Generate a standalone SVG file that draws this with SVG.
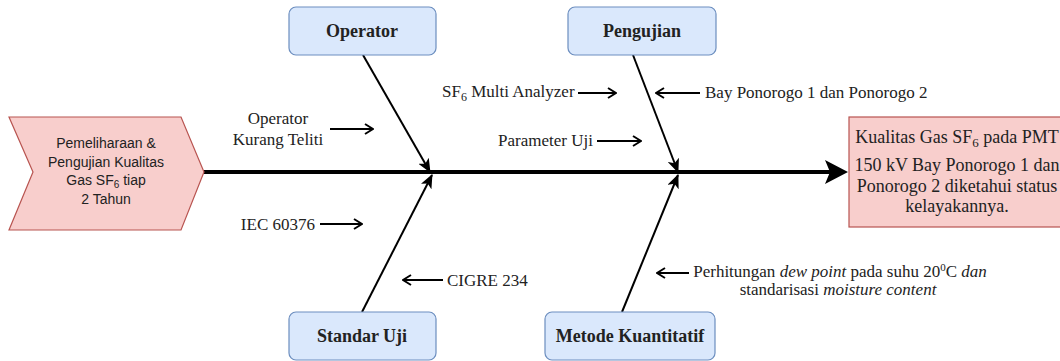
<svg xmlns="http://www.w3.org/2000/svg" width="1060" height="361" viewBox="0 0 1060 361">
<style>
.pink{fill:#f8cecc;stroke:#b85450;stroke-width:1.2}
.blue{fill:#dae8fc;stroke:#6c8ebf;stroke-width:1.2}
.bold{font-family:"Liberation Serif",serif;font-weight:bold;font-size:18px;fill:#222;text-anchor:middle}
.lbl{font-family:"Liberation Serif",serif;font-size:17px;fill:#222}
.sans{font-family:"Liberation Sans",Arial,sans-serif;font-size:14px;fill:#222;text-anchor:middle}
.rt{font-family:"Liberation Serif",serif;font-size:18px;fill:#222;text-anchor:middle}
.diag{stroke:#000;stroke-width:2;fill:none}
.la{stroke:#000;stroke-width:2;fill:none}
</style>
<defs>
<marker id="cls" viewBox="0 0 14 12" refX="13" refY="6" markerWidth="14" markerHeight="12" markerUnits="userSpaceOnUse" orient="auto">
<path d="M0,0 L14,6 L0,12 L3.5,6 Z" fill="#000"/>
</marker>
<marker id="opn" viewBox="0 0 10 12" refX="9" refY="6" markerWidth="10" markerHeight="12" markerUnits="userSpaceOnUse" orient="auto">
<path d="M1,1 L9,6 L1,11" fill="none" stroke="#000" stroke-width="2"/>
</marker>
</defs>

<g id="connectors">
<line x1="204" y1="172" x2="832" y2="172" stroke="#000" stroke-width="4"/>
<path d="M848,172 L825,160 L830,172 L825,184 Z" fill="#000"/>
<line class="diag" x1="363" y1="55" x2="430" y2="172" marker-end="url(#cls)"/>
<line class="diag" x1="362" y1="312" x2="432" y2="175" marker-end="url(#cls)"/>
<line class="diag" x1="633" y1="55" x2="678" y2="172" marker-end="url(#cls)"/>
<line class="diag" x1="622" y1="312" x2="678" y2="175" marker-end="url(#cls)"/>
<line class="la" x1="330" y1="129" x2="373" y2="129" marker-end="url(#opn)"/>
<line class="la" x1="578" y1="93" x2="616" y2="93" marker-end="url(#opn)"/>
<line class="la" x1="700" y1="93" x2="656" y2="93" marker-end="url(#opn)"/>
<line class="la" x1="597" y1="141" x2="641" y2="141" marker-end="url(#opn)"/>
<line class="la" x1="320" y1="224" x2="362" y2="224" marker-end="url(#opn)"/>
<line class="la" x1="443" y1="280" x2="403" y2="280" marker-end="url(#opn)"/>
<line class="la" x1="689" y1="273" x2="657" y2="273" marker-end="url(#opn)"/>
</g>

<g id="start">
<polygon class="pink" points="9,117 181,117 204,172 181,230 9,230 33,172"/>
<text class="sans" x="106" y="148">Pemeliharaan &amp;</text>
<text class="sans" x="106" y="167">Pengujian Kualitas</text>
<text class="sans" x="106" y="185">Gas SF<tspan font-size="10" dy="3">6</tspan><tspan dy="-3"> tiap</tspan></text>
<text class="sans" x="106" y="204">2 Tahun</text>
</g>

<g id="result">
<rect class="pink" x="849" y="117" width="216" height="110"/>
<text class="rt" x="957" y="143">Kualitas Gas SF<tspan font-size="13" dy="4">6</tspan><tspan dy="-4"> pada PMT</tspan></text>
<text class="rt" x="957" y="171">150 kV Bay Ponorogo 1 dan</text>
<text class="rt" x="957" y="192">Ponorogo 2 diketahui status</text>
<text class="rt" x="957" y="212">kelayakannya.</text>
</g>

<g id="operator">
<rect class="blue" x="289" y="7" width="147" height="48" rx="7"/>
<text class="bold" x="362" y="37">Operator</text>
</g>
<g id="pengujian">
<rect class="blue" x="568" y="7" width="148" height="48" rx="7"/>
<text class="bold" x="642" y="37">Pengujian</text>
</g>
<g id="standar-uji">
<rect class="blue" x="289" y="312" width="147" height="48" rx="7"/>
<text class="bold" x="362" y="342">Standar Uji</text>
</g>
<g id="metode">
<rect class="blue" x="545" y="312" width="170" height="48" rx="7"/>
<text class="bold" x="630" y="342">Metode Kuantitatif</text>
</g>

<g id="labels">
<text class="lbl" x="278" y="124" text-anchor="middle">Operator</text>
<text class="lbl" x="278" y="145" text-anchor="middle">Kurang Teliti</text>
<text class="lbl" x="442" y="97">SF<tspan font-size="12" dy="4">6</tspan><tspan dy="-4"> Multi Analyzer</tspan></text>
<text class="lbl" x="705" y="98">Bay Ponorogo 1 dan Ponorogo 2</text>
<text class="lbl" x="593" y="146" text-anchor="end">Parameter Uji</text>
<text class="lbl" x="315" y="230" text-anchor="end">IEC 60376</text>
<text class="lbl" x="447" y="286">CIGRE 234</text>
<text class="lbl" x="840" y="277" text-anchor="middle" font-size="15">Perhitungan <tspan font-style="italic">dew point</tspan> pada suhu 20<tspan font-size="11" dy="-6">0</tspan><tspan dy="6">C </tspan><tspan font-style="italic">dan</tspan></text>
<text class="lbl" x="838" y="295" text-anchor="middle" font-size="15">standarisasi <tspan font-style="italic">moisture content</tspan></text>
</g>
</svg>
